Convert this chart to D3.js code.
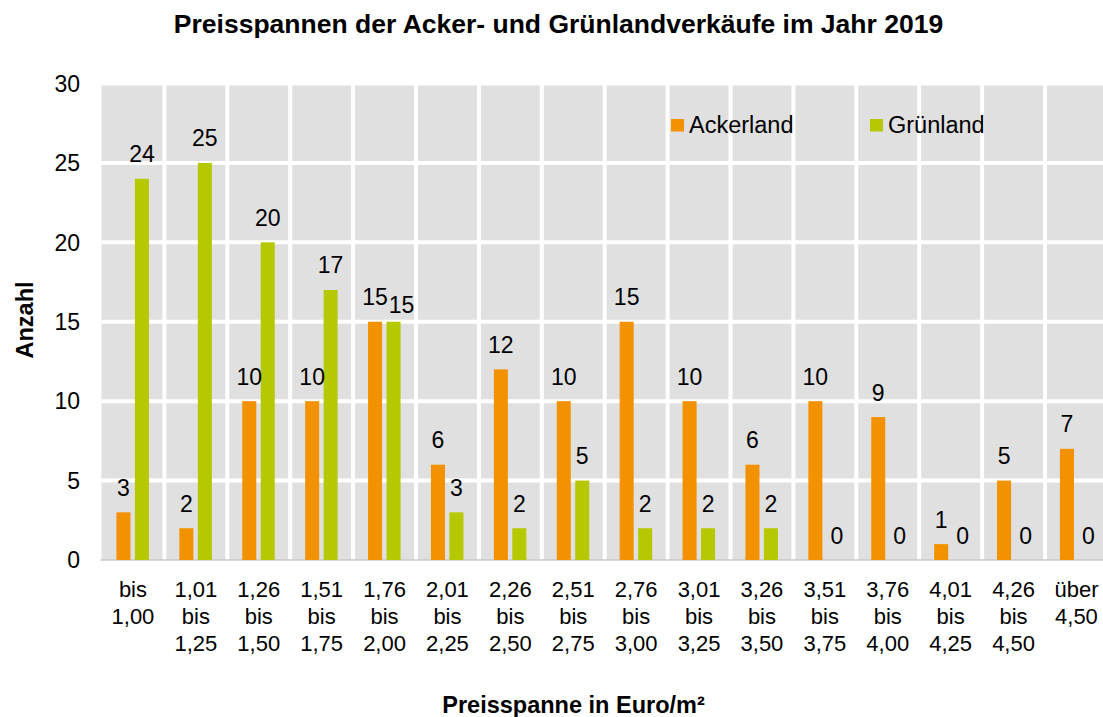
<!DOCTYPE html>
<html>
<head>
<meta charset="utf-8">
<script src="https://cdn.jsdelivr.net/npm/d3@7"></script>
<style>
  body { margin: 0; background: #fff; }
  text { font-family: "Liberation Sans", Arial, sans-serif; fill: #000; }
</style>
</head>
<body>
<svg id="chart" width="1103" height="717"></svg>
<script>
// Preisspannen (Euro/m²) und Anzahl der Verkäufe
const categories = [
	"bis 1,00", "1,01 bis 1,25", "1,26 bis 1,50", "1,51 bis 1,75",
	"1,76 bis 2,00", "2,01 bis 2,25", "2,26 bis 2,50", "2,51 bis 2,75",
	"2,76 bis 3,00", "3,01 bis 3,25", "3,26 bis 3,50", "3,51 bis 3,75",
	"3,76 bis 4,00", "4,01 bis 4,25", "4,26 bis 4,50", "über 4,50"
];
const ackerland = [3, 2, 10, 10, 15, 6, 12, 10, 15, 10, 6, 10, 9, 1, 5, 7];
const gruenland = [24, 25, 20, 17, 15, 3, 2, 5, 2, 2, 2, 0, 0, 0, 0, 0];
const seriesNames = ["Ackerland", "Grünland"];
const seriesColors = ["#f39200", "#b5c800"];
const yTicks = [0, 5, 10, 15, 20, 25, 30];

const svg = d3.select("#chart");
const margin = { left: 101.5, top: 83.5, bottom: 560 };
const plotRight = margin.left + 16 * 62.9;

// Scales
const x = d3.scaleBand().domain(categories).range([margin.left, plotRight]);
const xSub = d3.scaleBand().domain(seriesNames).range([-16.5, 16]).paddingInner(0.24);
const y = d3.scaleLinear().domain([0, 30]).range([margin.bottom, margin.top]);
const color = d3.scaleOrdinal().domain(seriesNames).range(seriesColors);

// Plot background
svg.append("rect")
	.attr("x", margin.left)
	.attr("y", y(30))
	.attr("width", plotRight - margin.left)
	.attr("height", y(0) - y(30))
	.attr("fill", "#e0e0e0");

// White grid lines
svg.append("g")
	.selectAll("line")
	.data(yTicks.filter((d) => d > 0))
	.enter()
	.append("line")
	.attr("x1", margin.left)
	.attr("x2", plotRight)
	.attr("y1", (d) => y(d))
	.attr("y2", (d) => y(d))
	.attr("stroke", "#fff")
	.attr("stroke-width", 4);

svg.append("g")
	.selectAll("line")
	.data(categories.slice(1))
	.enter()
	.append("line")
	.attr("x1", (d) => x(d))
	.attr("x2", (d) => x(d))
	.attr("y1", y(30) - 2)
	.attr("y2", y(0))
	.attr("stroke", "#fff")
	.attr("stroke-width", 4);

// Zero axis line
svg.append("line")
	.attr("x1", margin.left - 1)
	.attr("x2", plotRight)
	.attr("y1", y(0))
	.attr("y2", y(0))
	.attr("stroke", "#c8c8c8")
	.attr("stroke-width", 1.5);

// Bars
const rows = [];
categories.forEach((c, i) => {
	rows.push({ cat: c, series: "Ackerland", value: ackerland[i] });
	rows.push({ cat: c, series: "Grünland", value: gruenland[i] });
});

const barX = (d) => x(d.cat) + x.bandwidth() / 2 + xSub(d.series);

svg.append("g")
	.selectAll("rect")
	.data(rows)
	.enter()
	.append("rect")
	.attr("x", barX)
	.attr("y", (d) => y(d.value))
	.attr("width", xSub.bandwidth())
	.attr("height", (d) => y(0) - y(d.value))
	.attr("fill", (d) => color(d.series));

// Data labels (the overlapping pair at 1,76 bis 2,00 is nudged as in the original)
svg.append("g")
	.selectAll("text")
	.data(rows)
	.enter()
	.append("text")
	.attr("x", (d) => {
		let cx = barX(d) + xSub.bandwidth() / 2;
		if (d.series === "Grünland" && d.value === 0) cx += 3;
		if (d.cat === "1,76 bis 2,00" && d.series === "Grünland") cx += 8;
		return cx;
	})
	.attr("y", (d) => {
		let by = y(d.value) - 16.5;
		if (d.cat === "1,76 bis 2,00" && d.series === "Grünland") by += 8;
		return by;
	})
	.attr("text-anchor", "middle")
	.style("font-size", "23px")
	.text((d) => d.value);

// Y tick labels
svg.append("g")
	.selectAll("text")
	.data(yTicks)
	.enter()
	.append("text")
	.attr("x", 80)
	.attr("y", (d) => y(d))
	.attr("dy", "0.36em")
	.attr("text-anchor", "end")
	.style("font-size", "23px")
	.text((d) => d);

// X category labels, one word per line
const xLabels = svg.append("g")
	.selectAll("text")
	.data(categories)
	.enter()
	.append("text")
	.attr("text-anchor", "middle")
	.style("font-size", "22px");

xLabels.selectAll("tspan")
	.data((d) => d.split(" ").map((w) => ({ w, c: d })))
	.enter()
	.append("tspan")
	.attr("x", (d) => x(d.c) + x.bandwidth() / 2)
	.attr("y", (d, i) => 596.5 + i * 27.3)
	.text((d) => d.w);

// Titles
svg.append("text")
	.attr("x", 558.5)
	.attr("y", 33)
	.attr("text-anchor", "middle")
	.style("font-size", "26.5px")
	.style("font-weight", "bold")
	.text("Preisspannen der Acker- und Grünlandverkäufe im Jahr 2019");

svg.append("text")
	.attr("x", 573.5)
	.attr("y", 713)
	.attr("text-anchor", "middle")
	.style("font-size", "23.5px")
	.style("font-weight", "bold")
	.text("Preisspanne in Euro/m²");

svg.append("text")
	.attr("transform", "translate(33,320) rotate(-90)")
	.attr("text-anchor", "middle")
	.style("font-size", "23.5px")
	.style("font-weight", "bold")
	.text("Anzahl");

// Legend
const legendX = [671, 870];
const legend = svg.append("g")
	.selectAll("g")
	.data(seriesNames)
	.enter()
	.append("g")
	.attr("transform", (d, i) => `translate(${legendX[i]},119)`);

legend.append("rect")
	.attr("width", 13)
	.attr("height", 12.5)
	.attr("fill", (d) => color(d));

legend.append("text")
	.attr("x", 18)
	.attr("y", 13.5)
	.style("font-size", "23.5px")
	.text((d) => d);
</script>
</body>
</html>
